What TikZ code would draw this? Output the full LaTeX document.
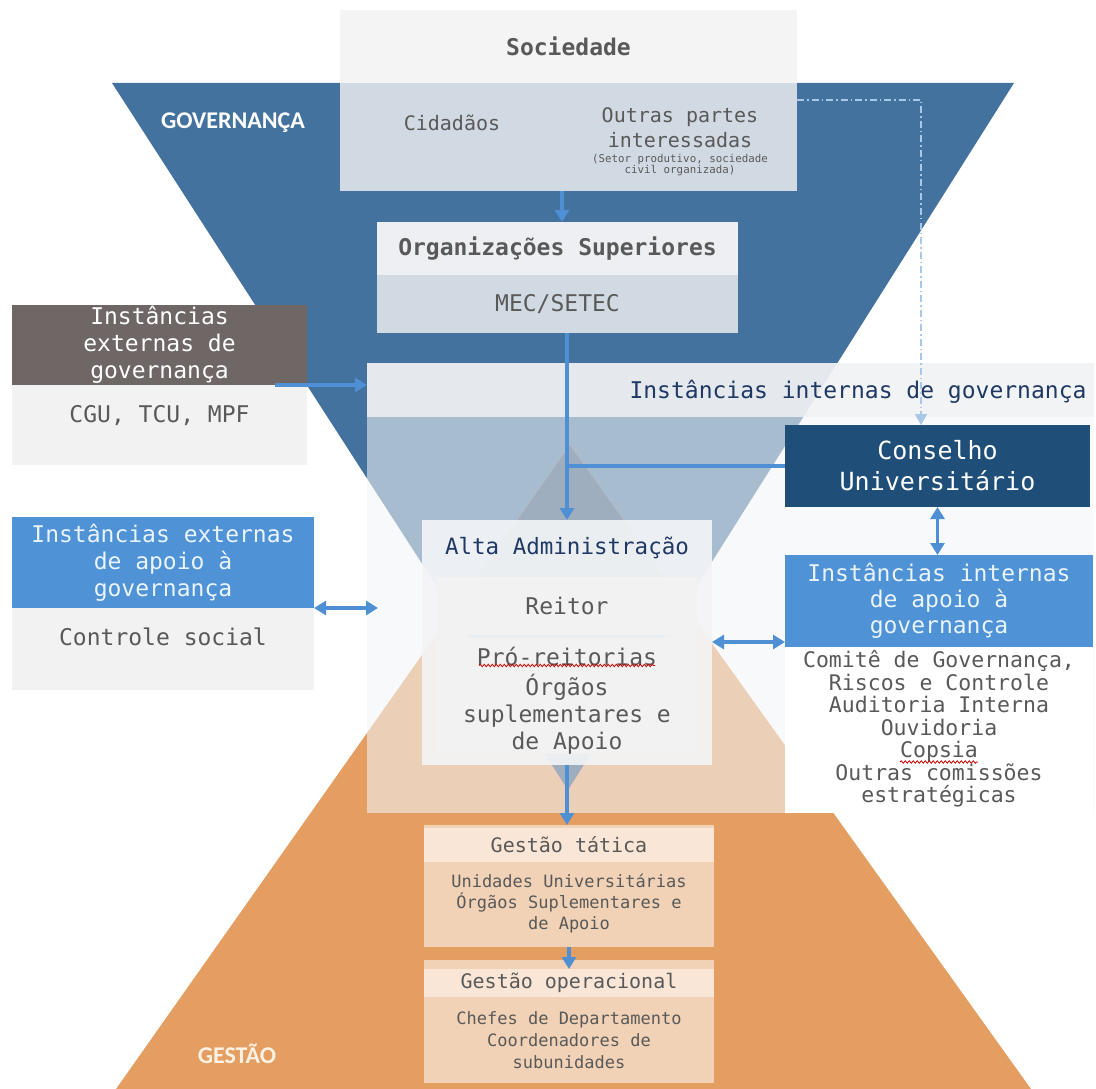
\documentclass[tikz,border=0pt]{standalone}
\usepackage{fontspec}
\setmainfont{DejaVu Sans Mono}
\newfontfamily\capsfont{Carlito}
\usetikzlibrary{arrows.meta,calc,decorations.pathmorphing}
\definecolor{govblue}{HTML}{44729E}
\definecolor{gestorange}{HTML}{E49E62}
\definecolor{overlapblue}{HTML}{2F5073}
\definecolor{panelwhite}{HTML}{F3F4F6}
\definecolor{bandgrey}{HTML}{F0F2F4}
\definecolor{socgrey}{HTML}{F4F4F4}
\definecolor{paleblue}{HTML}{D1DAE3}
\definecolor{orghead}{HTML}{EDEFF2}
\definecolor{extgrey}{HTML}{6E6765}
\definecolor{lightgrey}{HTML}{F2F2F2}
\definecolor{boxblue}{HTML}{4F92D5}
\definecolor{headwhite}{HTML}{EAF4FF}
\definecolor{navy}{HTML}{1F4E79}
\definecolor{textgrey}{HTML}{595959}
\definecolor{textnavy}{HTML}{1F3864}
\definecolor{altafill}{HTML}{F4F5F7}
\definecolor{gestbox}{HTML}{F1D2B6}
\definecolor{gesthead}{HTML}{F9E6D6}
\definecolor{arrowblue}{HTML}{4F8FD3}
\definecolor{dashblue}{HTML}{A9C7E6}
\definecolor{gestlabel}{HTML}{FDF1E3}
\newcommand{\setfs}[2]{\fontsize{#1}{#2}\selectfont}

\begin{document}
\begin{tikzpicture}[x=1pt,y=-1pt,
    box/.style={inner sep=0pt, outer sep=0pt, align=center, text=textgrey},
    arr/.style={draw=arrowblue, line width=3.2pt, -{Triangle[length=12pt,width=14pt]}},
    dbl/.style={draw=arrowblue, line width=3.2pt, {Triangle[length=12pt,width=14pt]}-{Triangle[length=12pt,width=14pt]}},
    link/.style={draw=arrowblue, line width=3.2pt},
    dashline/.style={draw=dashblue, line width=1.6pt, dash pattern=on 7pt off 3pt on 1.5pt off 3pt, -{Triangle[length=11pt,width=12pt]}},
    spell/.style={draw=red!80!black, line width=0.8pt, decorate, decoration={snake, amplitude=1.2pt, segment length=4pt}},
    biglabel/.style={inner sep=0pt, font=\capsfont\bfseries\setfs{24}{29}}]
    \useasboundingbox (0,0) rectangle (1096,1089);

    % the two triangles
    \fill[govblue] (112,83) -- (1014,83) -- (568,790) -- cycle;
    \fill[gestorange] (570,445) -- (1031,1089) -- (116,1089) -- cycle;
    \begin{scope}
        \clip (112,83) -- (1014,83) -- (568,790) -- cycle;
        \fill[overlapblue] (570,445) -- (1031,1089) -- (116,1089) -- cycle;
    \end{scope}
    \node[biglabel, text=white] (govlabel) at (233,123) {GOVERNANÇA};
    \node[biglabel, text=gestlabel] (gestlabel) at (237,1054) {GESTÃO};

    % internal panel
    \node[box, fill=panelwhite, fill opacity=0.575, minimum width=727, minimum height=450] (panel) at (730.5,588) {};
    \node[box, fill=bandgrey, fill opacity=0.85, minimum width=727, minimum height=54] (band) at (730.5,390) {};
    \node[box, text=textnavy, font=\setfs{23}{27}] (intTitle) at (858,392) {Instâncias internas de governança};

    % society
    \node[box, fill=socgrey, minimum width=457, minimum height=73, font=\bfseries\setfs{23}{27}] (socHead) at (568.5,46.5) {Sociedade};
    \node[box, fill=paleblue, minimum width=457, minimum height=108] (socBody) at (568.5,137) {};
    \node[box, font=\setfs{20}{25}] (cidadaos) at (452,123) {Cidadãos};
    \node[box, font=\setfs{20}{25}] (outras) at (680,128) {Outras partes\\interessadas};
    \node[box, font=\setfs{10.8}{11}] (setor) at (680,165) {(Setor produtivo, sociedade\\civil organizada)};

    % higher organisations
    \node[box, fill=orghead, minimum width=361, minimum height=53, font=\bfseries\setfs{23}{27}] (orgHead) at (557.5,248.5) {Organizações Superiores};
    \node[box, fill=paleblue, minimum width=361, minimum height=58, font=\setfs{23}{27}] (orgBody) at (557.5,304) {MEC/SETEC};

    % external instances
    \node[box, fill=extgrey, text=white, minimum width=295, minimum height=80, font=\setfs{23}{27}] (extHead) at (159.5,345) {Instâncias\\externas de\\governança};
    \node[box, fill=lightgrey, minimum width=295, minimum height=80] (extBody) at (159.5,425) {};
    \node[box, font=\setfs{23}{27}] (extBodyText) at ($(extBody.north)+(0,31)$) {CGU, TCU, MPF};
    \node[box, fill=boxblue, text=headwhite, minimum width=302, minimum height=91, font=\setfs{23}{27}] (apoioHead) at (163,562.5) {Instâncias externas\\de apoio à\\governança};
    \node[box, fill=lightgrey, minimum width=302, minimum height=82] (apoioBody) at (163,649) {};
    \node[box, font=\setfs{23}{27}] (apoioBodyText) at ($(apoioBody.north)+(0,29)$) {Controle social};

    % internal instances
    \node[box, fill=navy, text=white, minimum width=305, minimum height=82, font=\setfs{25}{31}] (cons) at (937.5,466) {Conselho\\Universitário};
    \node[box, fill=white, minimum width=308, minimum height=168, font=\setfs{21.5}{22.5}] (intList) at (939,729) {Comitê de Governança,\\Riscos e Controle\\Auditoria Interna\\Ouvidoria\\Copsia\\Outras comissões\\estratégicas};
    \node[box, fill=boxblue, text=headwhite, minimum width=308, minimum height=92, font=\setfs{23}{26}] (intApoio) at (939,601) {Instâncias internas\\de apoio à\\governança};

    % top administration
    \node[box, fill=altafill, fill opacity=0.9, text opacity=1, minimum width=290, minimum height=245] (alta) at (567,642.5) {};
    \node[box, text=textnavy, font=\setfs{22.5}{27}] (altaTitle) at ($(alta.north)+(0,28)$) {Alta Administração};
    \node[box, fill=lightgrey, minimum width=260, minimum height=58, font=\setfs{23}{27}] (reitor) at (567,606) {Reitor};
    \node[box, fill=lightgrey, minimum width=260, minimum height=37, font=\setfs{23}{27}] (pro) at (567,656.5) {Pró-reitorias};
    \node[box, fill=lightgrey, minimum width=260, minimum height=72, font=\setfs{23}{27}] (orgaos) at (567,714) {Órgãos\\suplementares e\\de Apoio};

    % management
    \node[box, fill=gestbox, minimum width=290, minimum height=122] (tatica) at (569,886) {};
    \node[box, fill=gesthead, minimum width=290, minimum height=34, font=\setfs{20}{24}] (taticaHead) at (569,845) {Gestão tática};
    \node[box, font=\setfs{17}{21}] (taticaText) at (569,903) {Unidades Universitárias\\Órgãos Suplementares e\\de Apoio};
    \node[box, fill=gestbox, minimum width=290, minimum height=123] (oper) at (569,1021.5) {};
    \node[box, fill=gesthead, minimum width=290, minimum height=28, font=\setfs{20}{24}] (operHead) at (569,983) {Gestão operacional};
    \node[box, font=\setfs{17}{22}] (operText) at (569,1040) {Chefes de Departamento\\Coordenadores de\\subunidades};

    % connectors
    \coordinate (socArrow) at (562,0);
    \coordinate (dashCorner) at (921,100);
    \coordinate (midArrow) at (0,642);
    \draw[arr] (socBody.south -| socArrow) -- (orgHead.north -| socArrow);
    \draw[arr] (orgBody.south -| alta.north) -- (alta.north);
    \draw[link] (cons.west) -- (cons.west -| alta.north);
    \draw[dashline] (socBody.east |- dashCorner) -- (dashCorner) -- (dashCorner |- cons.north);
    \draw[arr] ([xshift=-32]extHead.south east) -- (extHead.south east -| panel.west);
    \draw[dbl] (apoioHead.south east) -- ($(apoioHead.south east -| panel.west)+(11,0)$);
    \draw[dbl] (alta.east |- midArrow) -- (intApoio.west |- midArrow);
    \draw[dbl] (cons.south) -- (cons.south |- intApoio.north);
    \draw[arr] (alta.south) -- (alta.south |- tatica.north);
    \draw[arr] (tatica.south) -- (tatica.south |- operHead.north);

    % spell-check marks
    \draw[spell] ($(pro.center)+(-88,9)$) -- ($(pro.center)+(88,9)$);
    \draw[spell] ($(intList.center)+(-39,33)$) -- ($(intList.center)+(39,33)$);
\end{tikzpicture}
\end{document}
